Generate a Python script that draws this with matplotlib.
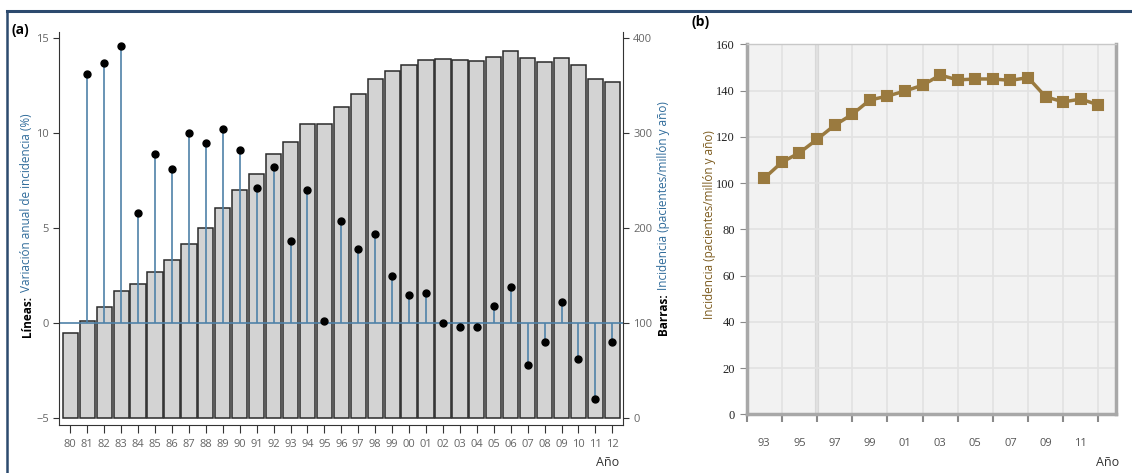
import matplotlib
matplotlib.use("Agg")
import matplotlib.pyplot as plt
from matplotlib.lines import Line2D

plt.rcParams['font.family'] = ['Open Sans', 'DejaVu Sans']

# panel (a): bars = incidence, lines = annual variation (%)
years_a = ['80', '81', '82', '83', '84', '85', '86', '87', '88', '89', '90',
           '91', '92', '93', '94', '95', '96', '97', '98', '99', '00', '01',
           '02', '03', '04', '05', '06', '07', '08', '09', '10', '11', '12']
incid_bar = [90, 102, 117, 134, 141, 154, 166, 183, 200, 221, 240,
             257, 278, 291, 310, 310, 328, 341, 357, 366, 372, 377,
             378, 377, 376, 380, 387, 379, 375, 379, 372, 357, 354]
variation = [None, 13.1, 13.7, 14.6, 5.8, 8.9, 8.1, 10.0, 9.5, 10.2, 9.1,
             7.1, 8.2, 4.3, 7.0, 0.1, 5.4, 3.9, 4.7, 2.5, 1.5, 1.6,
             0.0, -0.2, -0.2, 0.9, 1.9, -2.2, -1.0, 1.1, -1.9, -4.0, -1.0]

# panel (b): incidence 1993-2012
years_b = list(range(1993, 2013))
incid_b = [102.1, 109.0, 113.1, 118.9, 125.0, 129.7, 135.9, 137.6, 139.8, 142.3,
           146.7, 144.6, 145.0, 145.0, 144.4, 145.6, 137.3, 135.1, 136.3, 133.8]
labels_b = ['93', '95', '97', '99', '01', '03', '05', '07', '09', '11']

W, H = 1132, 473
fig = plt.figure(figsize=(W / 100, H / 100), dpi=100)

blue = '#2f6b9a'
stem = '#4f82a8'
tick_grey = '#666666'

# ---------- panel (a)
ax = fig.add_axes([59.3 / W, 1 - 425 / H, 563.4 / W, 393.3 / H])
axb = ax.twinx()
axb.set_zorder(ax.get_zorder() - 1)
ax.patch.set_visible(False)

idx = list(range(len(years_a)))
axb.bar(idx, incid_bar, width=0.9, color='#d3d3d3', edgecolor='#2a2a2a', linewidth=1.1)

ax.axhline(0, color=stem, lw=1.2)
vi = [i for i, v in zip(idx, variation) if v is not None]
vv = [v for v in variation if v is not None]
ax.vlines(vi, 0, vv, color=stem, lw=1.2)
ax.plot(vi, vv, 'o', color='black', ms=5)

ylo, yhi = -5.37, 15.35
ax.set_ylim(ylo, yhi)
axb.set_ylim(100 + 20 * ylo, 100 + 20 * yhi)
ax.set_xlim(-0.65, 32.61)

ax.set_yticks([-5, 0, 5, 10, 15])
axb.set_yticks([0, 100, 200, 300, 400])
ax.set_xticks(idx)
ax.set_xticklabels(years_a)

for a in (ax, axb):
    a.spines['top'].set_visible(False)
ax.spines['right'].set_visible(False)
for s in ('left', 'bottom'):
    ax.spines[s].set_color('#333333')
axb.spines['right'].set_color('#333333')
axb.spines['left'].set_visible(False)
axb.spines['bottom'].set_visible(False)

ax.tick_params(axis='y', length=4, color='#333333', labelcolor=tick_grey, labelsize=8)
ax.tick_params(axis='x', length=6, color='#333333', labelcolor=tick_grey, labelsize=8, pad=4)
axb.tick_params(axis='y', length=4, color='#333333', labelcolor=tick_grey, labelsize=8)

# ---------- panel (b)
ax2 = fig.add_axes([746.7 / W, 1 - 414.3 / H, 369.3 / W, 370 / H])
ax2.set_facecolor('#f2f2f2')
ax2.set_xlim(1992, 2013)
ax2.set_ylim(0, 160)
ax2.set_xticks(range(1992, 2013, 2))
ax2.set_xticklabels([])
ax2.set_xticks(range(1993, 2012, 2), minor=True)
ax2.set_xticklabels(labels_b, minor=True)
ax2.set_yticks(range(0, 161, 20))
ax2.grid(True, color='#e2e2e2', lw=1.2)
ax2.set_axisbelow(True)
ax2.axvline(1996, color='#d8d8d8', lw=3, zorder=0.5)

ax2.plot(years_b, incid_b, color='#9a7a3f', lw=2.5, marker='s', ms=6.5,
         mec='#9a7a3f', mfc='#9a7a3f', mew=1.5, solid_joinstyle='round')

for s in ('left', 'bottom', 'right'):
    ax2.spines[s].set_color('#a8a8a8')
    ax2.spines[s].set_linewidth(2.5)
ax2.spines['top'].set_color('#c8c8c8')
ax2.spines['top'].set_linewidth(1)

ax2.tick_params(axis='x', which='major', length=6, width=1.5, color='#8a8a8a')
ax2.tick_params(axis='x', which='minor', length=0, pad=17, labelsize=8, labelcolor='#555555')
ax2.tick_params(axis='y', length=5, color='#8a8a8a', labelsize=9, labelcolor='#222222',
                labelfontfamily='Liberation Serif')


def rich_vlabel(x_px, yc_px, parts, size=8.5):
    # draws a rotated label made of several differently styled pieces
    r = fig.canvas.get_renderer()
    texts = []
    for s, kw in parts:
        t = fig.text(0, 0, s, rotation=90, ha='center', va='bottom', fontsize=size, **kw)
        texts.append(t)
    hs = [t.get_window_extent(r).height for t in texts]
    y = (H - yc_px) - (sum(hs) + 4 * (len(hs) - 1)) / 2
    for t, h in zip(texts, hs):
        t.set_position((x_px / W, y / H))
        y += h + 4


rich_vlabel(27, 225, [('Líneas:', dict(weight='bold', color='black')),
                      ('Variación anual de incidencia (%)', dict(color=blue))])
rich_vlabel(664, 218, [('Barras:', dict(weight='bold', color='black')),
                       ('Incidencia (pacientes/millón y año)', dict(color=blue))])
fig.text(710 / W, 1 - 225 / H, 'Incidencia (pacientes/millón y año)', rotation=90,
         ha='center', va='center', fontsize=8.5, color='#7d5c1f')

fig.text(12 / W, 1 - 30 / H, '(a)', weight='bold', fontsize=10, va='center')
fig.text(692 / W, 1 - 22 / H, '(b)', weight='bold', fontsize=10, va='center')
fig.text(619 / W, 1 - 462 / H, 'Año', fontsize=9, ha='right', va='center', color='#333333')
fig.text(1119 / W, 1 - 462 / H, 'Año', fontsize=9, ha='right', va='center', color='#333333')

# frame lines of the figure
fig.add_artist(Line2D([7 / W, 1], [1 - 11 / H] * 2, transform=fig.transFigure,
                      color='#2c4a6e', lw=2.2))
fig.add_artist(Line2D([7 / W] * 2, [0, 1 - 11 / H], transform=fig.transFigure,
                      color='#2c4a6e', lw=1.8))

fig.savefig('out.png', dpi=100)
